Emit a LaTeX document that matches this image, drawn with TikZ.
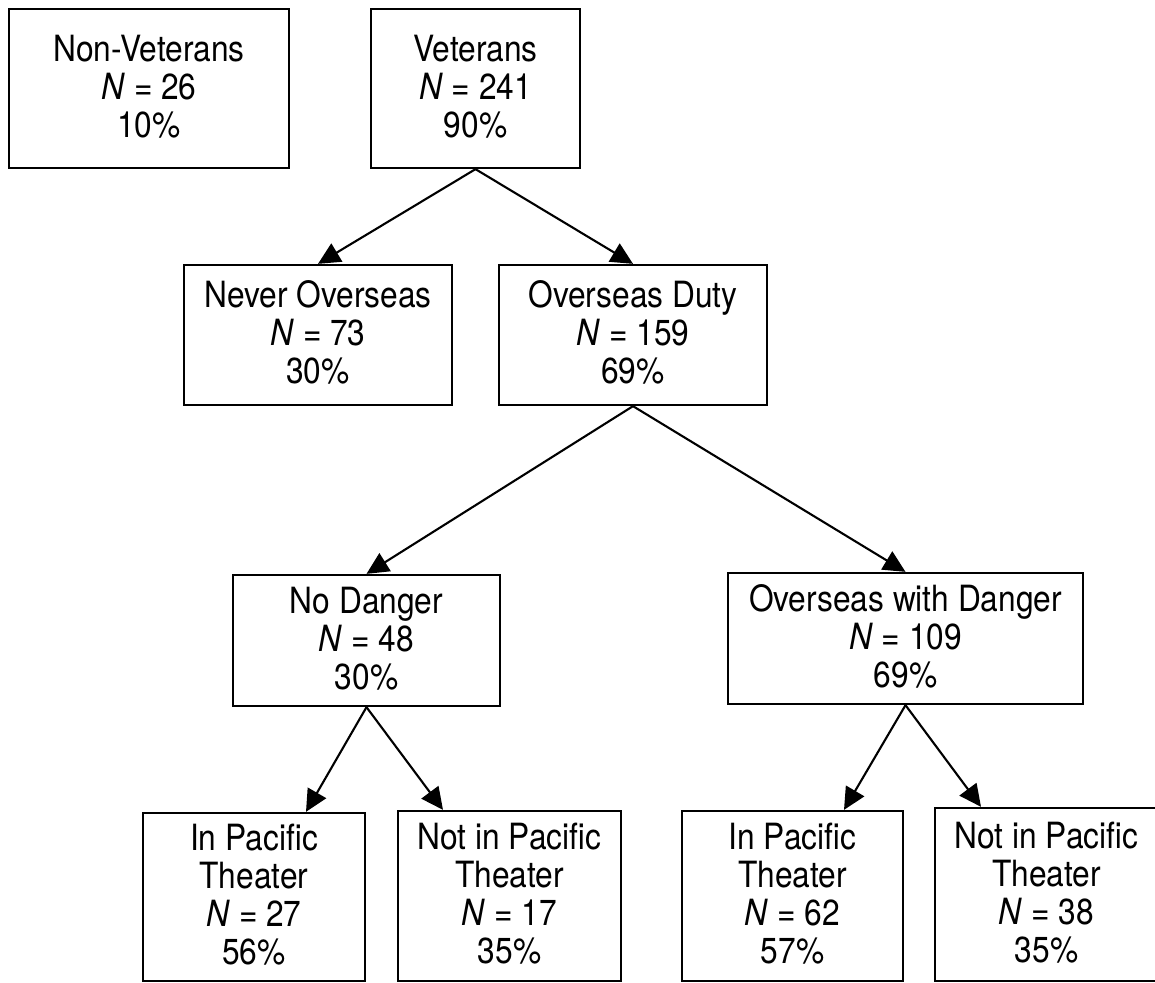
\documentclass[tikz,border=0pt]{standalone}
\usepackage{fontspec}
\setmainfont{TeX Gyre Heros}
\usepackage{graphicx}
\usetikzlibrary{arrows.meta}
\newcommand{\boxtext}[1]{\raisebox{-3pt}[\height][\depth]{\scalebox{1}[1.14]{\begin{tabular}{@{}c@{}}#1\end{tabular}}}}
\begin{document}
\begin{tikzpicture}[x=1pt,y=-1pt,
  box/.style={draw,line width=2.3pt,inner sep=0pt,font=\fontsize{31.7}{33.3}\selectfont},
  arr/.style={line width=2.1pt,-{Triangle[length=22pt,width=21pt]}}]
\useasboundingbox (0,0) rectangle (1155,982);
\clip (0,0) rectangle (1155,982);
% top level
\node[box,minimum width=280pt,minimum height=159pt] (nonvet) at (149,88.5)
  {\boxtext{Non-Veterans\\ \textit{N} = 26\\ 10\%}};
\node[box,minimum width=209pt,minimum height=159pt] (vet) at (475.5,88.5)
  {\boxtext{Veterans\\ \textit{N} = 241\\ 90\%}};
% second level
\node[box,minimum width=268pt,minimum height=140pt] (never) at (318,335)
  {\boxtext{Never Overseas\\ \textit{N} = 73\\ 30\%}};
\node[box,minimum width=268pt,minimum height=140pt] (duty) at (633,335)
  {\boxtext{Overseas Duty\\ \textit{N} = 159\\ 69\%}};
% third level
\node[box,minimum width=267pt,minimum height=131pt] (nodanger) at (366.5,640.5)
  {\boxtext{No Danger\\ \textit{N} = 48\\ 30\%}};
\node[box,minimum width=355pt,minimum height=131pt] (danger) at (905.5,638.5)
  {\boxtext{Overseas with Danger\\ \textit{N} = 109\\ 69\%}};
% bottom level
\node[box,minimum width=222pt,minimum height=168pt] (ipl) at (254,897)
  {\boxtext{In Pacific\\ Theater\\ \textit{N} = 27\\ 56\%}};
\node[box,minimum width=223pt,minimum height=170pt] (nipl) at (509.5,896)
  {\boxtext{Not in Pacific\\ Theater\\ \textit{N} = 17\\ 35\%}};
\node[box,minimum width=221pt,minimum height=170pt] (ipr) at (792.5,896)
  {\boxtext{In Pacific\\ Theater\\ \textit{N} = 62\\ 57\%}};
\node[box,minimum width=223pt,minimum height=173pt] (nipr) at (1046.5,894.5)
  {\boxtext{Not in Pacific\\ Theater\\ \textit{N} = 38\\ 35\%}};
% connectors
\draw[arr] (vet.south) -- (never.north);
\draw[arr] (vet.south) -- (duty.north);
\draw[arr] (duty.south) -- (nodanger.north);
\draw[arr] (duty.south) -- (danger.north);
\draw[arr] (nodanger.south) -- ([xshift=52pt]ipl.north);
\draw[arr] (nodanger.south) -- ([xshift=-66.5pt]nipl.north);
\draw[arr] (danger.south) -- ([xshift=51.5pt]ipr.north);
\draw[arr] (danger.south) -- ([xshift=-65.5pt]nipr.north);
\end{tikzpicture}
\end{document}
